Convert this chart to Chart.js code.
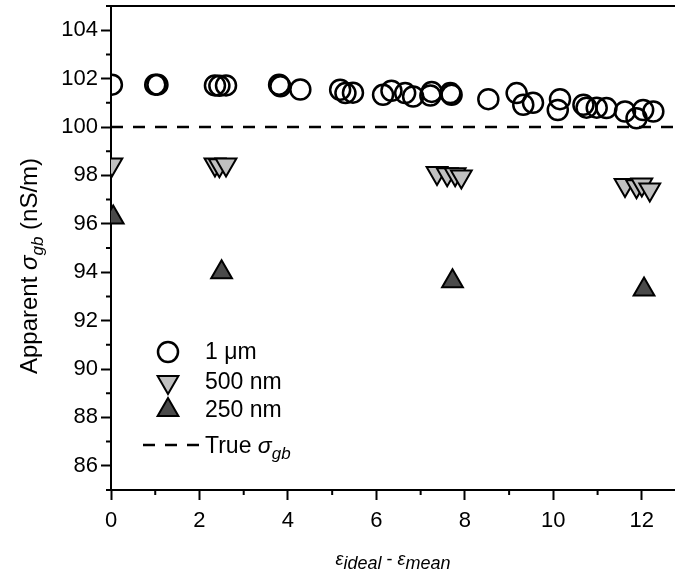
<!DOCTYPE html>
<html>
<head>
<meta charset="utf-8">
<script src="https://cdn.jsdelivr.net/npm/chart.js@4.4.0/dist/chart.umd.min.js"></script>
<style>
  html, body { margin: 0; padding: 0; background: #fff; }
  #wrap { width: 675px; height: 579px; }
</style>
</head>
<body>
<div id="wrap"><canvas id="chart" width="675" height="579"></canvas></div>
<script>
// 1 um grains (open circles)
var micronX = [0.02, 1.0, 1.05, 2.35, 2.45, 2.6, 3.8, 3.83, 4.28, 5.18, 5.3, 5.47, 6.15, 6.34, 6.65, 6.83,
               7.22, 7.25, 7.67, 7.7, 8.53, 9.17, 9.32, 9.54, 10.1, 10.15, 10.68, 10.75, 10.98, 11.2,
               11.62, 11.88, 12.03, 12.26];
var micronY = [101.75, 101.75, 101.75, 101.72, 101.7, 101.72, 101.75, 101.68, 101.55, 101.54, 101.4, 101.42,
               101.33, 101.5, 101.4, 101.26, 101.3, 101.45, 101.4, 101.33, 101.15, 101.4, 100.92, 101.0,
               100.7, 101.15, 100.92, 100.8, 100.8, 100.78, 100.64, 100.36, 100.7, 100.64];
// 500 nm grains (down triangles)
var nm500X = [0.02, 2.35, 2.45, 2.6, 7.37, 7.6, 7.78, 7.92, 11.62, 11.88, 12.0, 12.18];
var nm500Y = [98.45, 98.45, 98.42, 98.45, 98.1, 98.05, 98.05, 97.95, 97.6, 97.55, 97.62, 97.42];
// 250 nm grains (up triangles)
var nm250X = [0.05, 2.5, 7.72, 12.05];
var nm250Y = [96.26, 94.0, 93.63, 93.28];
// true sigma_gb reference
var trueSigma = 100;

var xMin = 0, xMax = 12.75;
var yMin = 85, yMax = 105;
var xTicks = [0, 2, 4, 6, 8, 10, 12];
var yTicks = [86, 88, 90, 92, 94, 96, 98, 100, 102, 104];

function pts(xs, ys) {
    return xs.map(function (x, i) { return { x: x, y: ys[i] }; });
}

var FONT = '"Liberation Sans", Arial, sans-serif';

// draw a run of text pieces (normal / italic / subscript)
function drawRich(ctx, parts, x, y, align) {
    var total = 0;
    parts.forEach(function (p) { ctx.font = p.font; total += ctx.measureText(p.t).width; });
    var cx = align === 'center' ? x - total / 2 : x;
    parts.forEach(function (p) {
        ctx.font = p.font;
        ctx.fillText(p.t, cx, y + (p.dy || 0));
        cx += ctx.measureText(p.t).width;
    });
}

function noPad(axis) {
    axis.paddingTop = 0; axis.paddingBottom = 0;
    axis.paddingLeft = 0; axis.paddingRight = 0;
}

var decorations = {
    id: 'decorations',
    afterDraw: function (chart) {
        var ctx = chart.ctx;
        var xs = chart.scales.x, ys = chart.scales.y;
        ctx.save();
        ctx.strokeStyle = '#000';
        ctx.lineWidth = 2;
        // minor ticks
        ctx.beginPath();
        for (var v = Math.ceil(yMin); v <= yMax; v++) {
            if (yTicks.indexOf(v) >= 0) continue;
            var py = ys.getPixelForValue(v);
            ctx.moveTo(xs.left - 5, py); ctx.lineTo(xs.left, py);
        }
        for (var u = Math.ceil(xMin); u <= xMax; u++) {
            if (xTicks.indexOf(u) >= 0) continue;
            var px = xs.getPixelForValue(u);
            ctx.moveTo(px, ys.bottom); ctx.lineTo(px, ys.bottom + 5);
        }
        ctx.stroke();

        ctx.fillStyle = '#000';
        ctx.textBaseline = 'alphabetic';
        // y title
        ctx.save();
        ctx.translate(37, 266);
        ctx.rotate(-Math.PI / 2);
        drawRich(ctx, [
            { t: 'Apparent ', font: '24px ' + FONT },
            { t: 'σ', font: 'italic 24px ' + FONT },
            { t: 'gb', font: 'italic 17px ' + FONT, dy: 6 },
            { t: ' (nS/m)', font: '24px ' + FONT }
        ], 0, 0, 'center');
        ctx.restore();
        // x title
        drawRich(ctx, [
            { t: 'ε', font: 'italic 18px ' + FONT },
            { t: 'ideal', font: 'italic 18px ' + FONT, dy: 4 },
            { t: ' - ', font: '18px ' + FONT },
            { t: 'ε', font: 'italic 18px ' + FONT },
            { t: 'mean', font: 'italic 18px ' + FONT, dy: 4 }
        ], (xs.left + xs.right) / 2, 565, 'center');

        // legend
        var lx = 168, tx = 205;
        var rows = [
            { y: 352, ds: 0, label: '1 μm' },
            { y: 382, ds: 1, label: '500 nm' },
            { y: 410, ds: 2, label: '250 nm' }
        ];
        rows.forEach(function (r) {
            var d = chart.data.datasets[r.ds];
            ctx.fillStyle = d.backgroundColor;
            ctx.strokeStyle = d.borderColor;
            ctx.lineWidth = d.borderWidth;
            Chart.helpers.drawPoint(ctx, {
                pointStyle: d.pointStyle, rotation: d.rotation || 0,
                radius: d.pointRadius, borderWidth: d.borderWidth
            }, lx, r.y);
            ctx.fillStyle = '#000';
            ctx.font = '23px ' + FONT;
            ctx.textBaseline = 'middle';
            ctx.fillText(r.label, tx, r.y + 1);
        });
        ctx.strokeStyle = '#000';
        ctx.lineWidth = 2.5;
        ctx.setLineDash([12, 10]);
        ctx.beginPath();
        ctx.moveTo(143, 445); ctx.lineTo(199, 445);
        ctx.stroke();
        ctx.setLineDash([]);
        ctx.fillStyle = '#000';
        ctx.textBaseline = 'alphabetic';
        drawRich(ctx, [
            { t: 'True ', font: '23px ' + FONT },
            { t: 'σ', font: 'italic 23px ' + FONT },
            { t: 'gb', font: 'italic 17px ' + FONT, dy: 6 }
        ], tx, 453, 'left');
        ctx.restore();
    }
};

var ctx = document.getElementById('chart').getContext('2d');
var myChart = new Chart(ctx, {
    type: 'scatter',
    data: {
        datasets: [
            {
                label: '1 μm',
                data: pts(micronX, micronY),
                pointStyle: 'circle',
                pointRadius: 10,
                backgroundColor: 'rgba(255,255,255,0)',
                borderColor: '#000',
                borderWidth: 2.5,
                clip: 0
            },
            {
                label: '500 nm',
                data: pts(nm500X, nm500Y),
                pointStyle: 'triangle',
                rotation: 180,
                pointRotation: 180,
                pointRadius: 12,
                backgroundColor: '#c0c0c0',
                borderColor: '#000',
                borderWidth: 2,
                clip: 0
            },
            {
                label: '250 nm',
                data: pts(nm250X, nm250Y),
                pointStyle: 'triangle',
                pointRadius: 12,
                backgroundColor: '#4a4a4a',
                borderColor: '#000',
                borderWidth: 2,
                clip: 0
            },
            {
                type: 'line',
                label: 'True σgb',
                data: [{ x: xMin, y: trueSigma }, { x: xMax, y: trueSigma }],
                borderColor: '#000',
                borderWidth: 2.5,
                borderDash: [12, 10],
                pointRadius: 0,
                fill: false,
                clip: 0
            }
        ]
    },
    options: {
        responsive: false,
        animation: false,
        layout: { autoPadding: false, padding: { top: 6, right: 0, left: 0, bottom: 0 } },
        scales: {
            x: {
                type: 'linear',
                position: 'bottom',
                min: xMin,
                max: xMax,
                afterBuildTicks: function (axis) { axis.ticks = xTicks.map(function (v) { return { value: v }; }); },
                afterFit: function (axis) { axis.height = 89; noPad(axis); },
                ticks: { color: '#000', font: { size: 22, family: FONT }, padding: 8, maxRotation: 0 },
                grid: { drawOnChartArea: false, tickLength: 10, tickWidth: 2, tickColor: '#000' },
                border: { color: '#000', width: 2 }
            },
            x2: {
                type: 'linear',
                position: 'top',
                min: xMin,
                max: xMax,
                afterFit: function (axis) { axis.height = 0; noPad(axis); },
                ticks: { display: false },
                grid: { drawOnChartArea: false, drawTicks: false },
                border: { color: '#000', width: 2 }
            },
            y: {
                type: 'linear',
                position: 'left',
                min: yMin,
                max: yMax,
                afterBuildTicks: function (axis) { axis.ticks = yTicks.map(function (v) { return { value: v }; }); },
                afterFit: function (axis) { axis.width = 111; noPad(axis); },
                ticks: { color: '#000', font: { size: 22, family: FONT }, padding: 3 },
                grid: { drawOnChartArea: false, tickLength: 10, tickWidth: 2, tickColor: '#000' },
                border: { color: '#000', width: 2 }
            }
        },
        plugins: {
            legend: { display: false },
            tooltip: { enabled: false }
        }
    },
    plugins: [decorations]
});
</script>
</body>
</html>
